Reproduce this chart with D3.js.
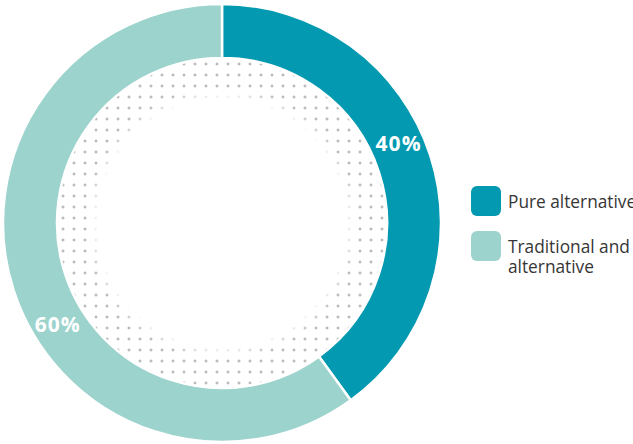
<!DOCTYPE html>
<html>
<head>
<meta charset="utf-8">
<script src="https://cdn.jsdelivr.net/npm/d3@7"></script>
<style>
  body { margin: 0; background: #fff; overflow: hidden; }
  svg { display: block; }
</style>
</head>
<body>
<div id="chart"></div>
<script>
// data
var categories = ['Pure alternative', 'Traditional and alternative']
var values = [40, 60]
var labels = ['40%', '60%']
var legendLines = [['Pure alternative'], ['Traditional and', 'alternative']]
var colors = ['#0399b1', '#9dd3cd']

var width = 633, height = 444
var cx = 222, cy = 223
var outerR = 219, innerR = 165, holeR = 124

var svg = d3.select('#chart').append('svg')
    .attr('width', width)
    .attr('height', height)

var defs = svg.append('defs')

// grey dot grid inside the ring
var pat = defs.append('pattern')
    .attr('id', 'dots')
    .attr('patternUnits', 'userSpaceOnUse')
    .attr('width', 11).attr('height', 11)
    .attr('x', cx + 0.5).attr('y', cy + 0.5)
pat.append('rect').attr('x', 4).attr('y', 5).attr('width', 3).attr('height', 1).attr('fill', '#a6a6a6')
pat.append('rect').attr('x', 5).attr('y', 4).attr('width', 1).attr('height', 3).attr('fill', '#a6a6a6')

// white hole fades out into the dots
var grad = defs.append('radialGradient').attr('id', 'fade')
grad.append('stop').attr('offset', '0%').attr('stop-color', '#fff').attr('stop-opacity', 1)
grad.append('stop').attr('offset', (holeR / (holeR + 12) * 100) + '%').attr('stop-color', '#fff').attr('stop-opacity', 1)
grad.append('stop').attr('offset', '100%').attr('stop-color', '#fff').attr('stop-opacity', 0)

var g = svg.append('g').attr('transform', 'translate(' + cx + ',' + cy + ')')

g.append('circle')
  .attr('transform', 'translate(' + (-cx) + ',' + (-cy) + ')')
  .attr('cx', cx).attr('cy', cy)
  .attr('r', innerR).attr('fill', 'url(#dots)')
g.append('circle').attr('r', holeR + 12).attr('fill', 'url(#fade)')

var pie = d3.pie().sort(null).value(function(d){ return d })
var arcs = pie(values)

var arc = d3.arc().innerRadius(innerR).outerRadius(outerR)

g.selectAll('path.slice')
  .data(arcs)
  .enter()
  .append('path')
    .attr('class', 'slice')
    .attr('d', arc)
    .attr('fill', function(d, i){ return colors[i] })
    .attr('stroke', '#fff')
    .attr('stroke-width', 2.5)

// labels sit a bit before the middle of each slice
var labelR = 193
g.append('g').attr('transform', 'translate(3,5)')
  .selectAll('text.pct')
  .data(arcs)
  .enter()
  .append('text')
    .attr('class', 'pct')
    .attr('transform', function(d){
      var a = d.startAngle + (d.endAngle - d.startAngle) * 0.445
      return 'translate(' + (Math.sin(a) * labelR) + ',' + (-Math.cos(a) * labelR) + ')'
    })
    .attr('text-anchor', 'middle')
    .attr('dy', '0.36em')
    .attr('fill', '#fff')
    .style('font-family', '"Open Sans", sans-serif')
    .style('font-weight', 700)
    .style('font-size', '21px')
    .style('letter-spacing', '1px')
    .text(function(d, i){ return labels[i] })

// legend
var legend = svg.append('g').attr('transform', 'translate(471,186)')
var item = legend.selectAll('g')
  .data(categories)
  .enter()
  .append('g')
    .attr('transform', function(d, i){ return 'translate(0,' + (i * 45) + ')' })

item.append('rect')
  .attr('width', 30).attr('height', 30)
  .attr('rx', 6)
  .attr('fill', function(d, i){ return colors[i] })

item.append('text')
  .attr('y', 22)
  .attr('fill', '#363636')
  .style('font-family', '"Open Sans", sans-serif')
  .style('font-size', '17.3px')
  .selectAll('tspan')
  .data(function(d, i){ return legendLines[i] })
  .enter()
  .append('tspan')
    .attr('x', 37)
    .attr('dy', function(d, j){ return j ? 20 : 0 })
    .text(function(d){ return d })
</script>
</body>
</html>
